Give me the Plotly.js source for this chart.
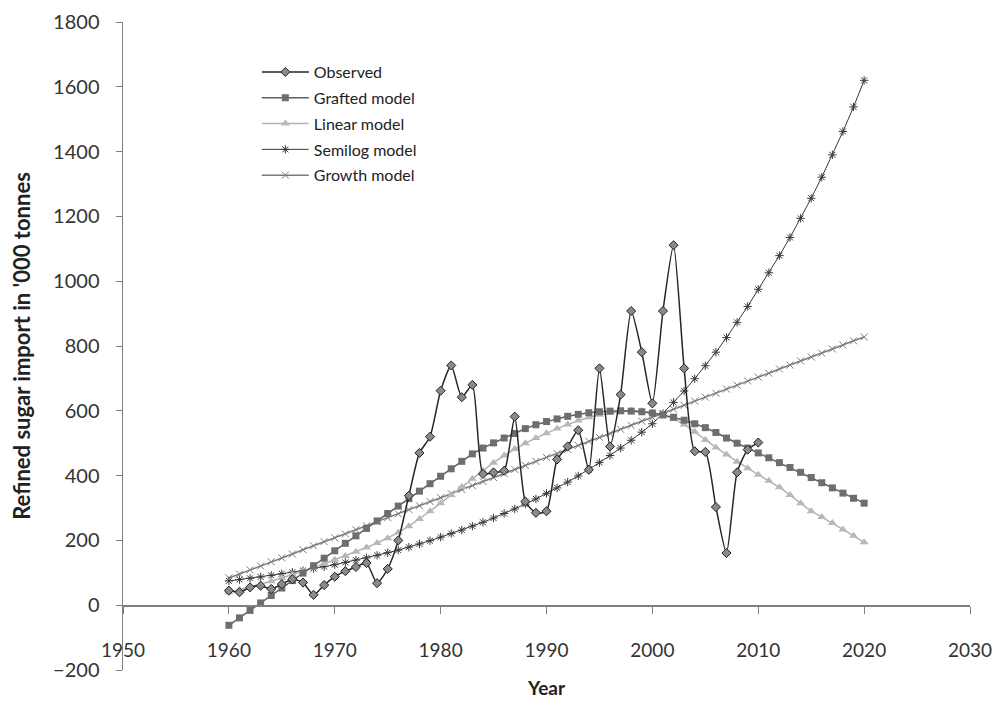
<!DOCTYPE html>
<html><head><meta charset="utf-8">
<script src="https://cdn.plot.ly/plotly-3.0.1.min.js"></script>
<style>html,body{margin:0;padding:0;background:#fff}#chart{width:996px;height:702px}</style>
</head><body><div id="chart"></div>
<script>
const modelYears = [1960,1961,1962,1963,1964,1965,1966,1967,1968,1969,
  1970,1971,1972,1973,1974,1975,1976,1977,1978,1979,
  1980,1981,1982,1983,1984,1985,1986,1987,1988,1989,
  1990,1991,1992,1993,1994,1995,1996,1997,1998,1999,
  2000,2001,2002,2003,2004,2005,2006,2007,2008,2009,
  2010,2011,2012,2013,2014,2015,2016,2017,2018,2019,2020];

const observedYears = [1960,1961,1962,1963,1964,1965,1966,1967,1968,1969,
  1970,1971,1972,1973,1974,1975,1976,1977,1978,1979,
  1980,1981,1982,1983,1984,1985,1986,1987,1988,1989,
  1990,1991,1992,1993,1994,1995,1996,1997,1998,1999,
  2000,2001,2002,2003,2004,2005,2006,2007,2008,2009,2010];

const observed = [45,40,55,60,50,65,80,70,32,62,
  88,105,118,130,68,112,200,338,470,520,
  662,740,642,680,405,410,415,582,320,285,
  290,450,490,540,418,731,490,650,908,781,
  623,908,1111,731,475,473,303,161,410,480,502];

const grafted = [-62,-39,-16,7,30,53,76,99,122,145,
  168,191,214,237,260,283,306,329,352,375,
  398,421,444,467,485,501,516,530,545,557,
  567,575,583,589,594,597,599,600,599,597,
  593,587,580,571,560,548,533,516,500,485,
  470,455,440,425,410,394,378,362,346,330,315];

const linear = [40,48,56,65,74,84,94,105,116,128,
  140,152,165,178,192,207,224,244,266,290,
  315,340,365,390,415,440,462,482,500,516,
  531,545,558,570,580,588,594,598,600,599,
  595,587,575,558,535,510,487,465,443,423,
  403,384,364,340,315,290,272,254,234,214,194];

const semilog = [75,79,83,87,92,97,102,107,113,119,
  125,132,139,146,154,162,170,179,189,199,
  210,221,232,244,256,269,283,297,312,328,
  345,362,380,399,419,440,462,485,509,534,
  560,592,626,661,699,739,781,826,873,922,
  975,1026,1079,1135,1194,1256,1321,1390,1462,1538,1620];

const growth = [84,96,109,121,134,146,158,171,183,196,
  208,220,233,245,258,270,282,295,307,320,
  332,344,357,369,382,394,406,419,431,444,
  456,468,481,493,506,518,530,543,555,568,
  580,592,605,617,630,642,654,667,679,692,
  704,716,729,741,754,766,778,791,803,816,828];

const seriesNames = ['Observed','Grafted model','Linear model','Semilog model','Growth model'];

const FONT = 'Lato, "Open Sans", "Liberation Sans", sans-serif';

const traces = [
  {x: modelYears, y: growth, name: seriesNames[4], legendgroup: 'g5', legendrank: 5, mode: 'lines+markers',
   line: {color: '#7a7a7a', width: 1.5},
   marker: {symbol: 'x-thin-open', size: 7, line: {color: '#555', width: 1}}},
  {x: modelYears, y: semilog, name: seriesNames[3], legendgroup: 'g4', legendrank: 4, mode: 'lines+markers',
   line: {color: '#3a3a3a', width: 1},
   marker: {symbol: 'asterisk-open', size: 7, line: {color: '#333', width: 1}}},
  {x: modelYears, y: linear, name: seriesNames[2], legendgroup: 'g3', legendrank: 3, mode: 'lines+markers',
   line: {color: '#b3b3b3', width: 1.5},
   marker: {symbol: 'triangle-up', size: 8, color: '#b8b8b8'}},
  {x: modelYears, y: grafted, name: seriesNames[1], legendgroup: 'g2', legendrank: 2, mode: 'lines+markers',
   line: {color: '#5e5e5e', width: 1.5},
   marker: {symbol: 'square', size: 7, color: '#6e6e6e'}},
  {x: observedYears, y: observed, name: seriesNames[0], legendgroup: 'g1', legendrank: 1, mode: 'lines+markers',
   line: {color: '#262626', width: 1.5, shape: 'spline', smoothing: 0.6},
   marker: {symbol: 'diamond', size: 7, color: '#8a8a8a', line: {color: '#222', width: 1}}}
];

const layout = {
  width: 996, height: 702,
  margin: {l: 123, r: 26, t: 22, b: 32},
  paper_bgcolor: '#fff', plot_bgcolor: '#fff',
  font: {family: FONT, color: '#222', size: 16},
  showlegend: true,
  legend: {x: 0.158, y: 0.949, xanchor: 'left', yanchor: 'top',
    bgcolor: 'rgba(0,0,0,0)', font: {size: 16, color: '#222', family: FONT},
    itemwidth: 47, traceorder: 'grouped', tracegroupgap: 2},
  xaxis: {range: [1950, 2030], tick0: 1950, dtick: 10,
    anchor: 'free', position: 0.1,
    showline: true, linecolor: '#7f7f7f', linewidth: 1.5,
    ticks: 'outside', ticklen: 7, tickcolor: '#7f7f7f', tickwidth: 1,
    showgrid: false, zeroline: false,
    ticklabelstandoff: 20,
    tickfont: {size: 19, color: '#333', family: FONT},
    title: {text: '<b>Year</b>', font: {size: 19, color: '#222', family: FONT}, standoff: 22}},
  yaxis: {range: [-200, 1800], tick0: -200, dtick: 200,
    showline: true, linecolor: '#7f7f7f', linewidth: 1.5,
    ticks: 'outside', ticklen: 6, tickcolor: '#7f7f7f', tickwidth: 1,
    showgrid: false, zeroline: false,
    ticklabelstandoff: 12,
    tickfont: {size: 20, color: '#333', family: FONT},
    title: {text: "<b>Refined sugar import in '000 tonnes</b>", font: {size: 22, color: '#222', family: FONT}, standoff: 16}}
};

Plotly.newPlot('chart', traces, layout, {displayModeBar: false, staticPlot: true});
</script>
</body></html>
